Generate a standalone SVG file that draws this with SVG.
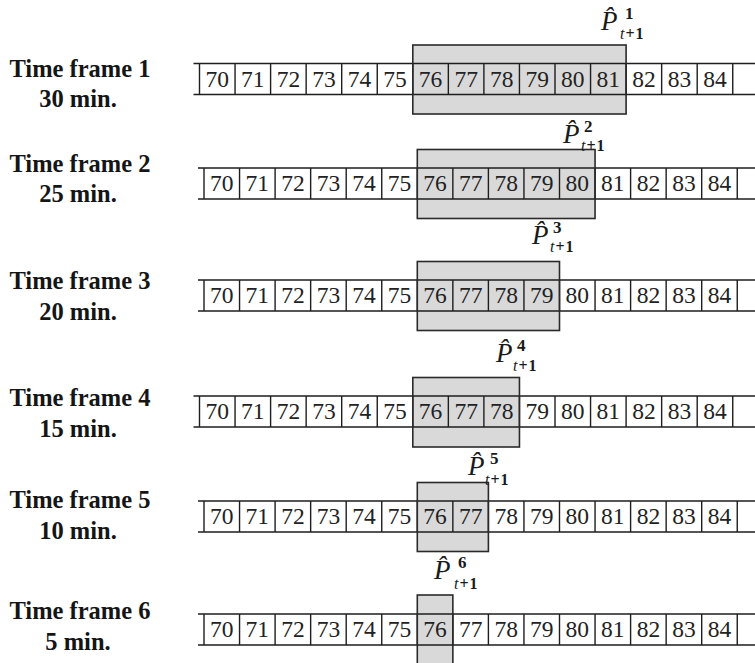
<svg xmlns="http://www.w3.org/2000/svg" xmlns:xlink="http://www.w3.org/1999/xlink" width="755" height="663" viewBox="0 0 755 663">
<style>
.bg{fill:#fff}
.ln{fill:none;stroke:#1e1e1e;stroke-width:1.4}
.boxf{fill:#d9d9d9;stroke:none}
.boxs{fill:none;stroke:#2a2a2a;stroke-width:1.6}
.num{font-family:"Liberation Serif",serif;font-size:23.5px;fill:#222;text-anchor:middle}
.lbl{font-family:"Liberation Serif",serif;font-weight:bold;font-size:24.5px;fill:#151515;text-anchor:middle}
.P{font-family:"Liberation Serif",serif;font-style:italic;font-size:27px;fill:#1a1a1a}
.sup{font-family:"Liberation Serif",serif;font-weight:bold;font-size:17px;fill:#1a1a1a}
.sub{font-family:"Liberation Serif",serif;font-weight:bold;font-size:16px;letter-spacing:1px;fill:#1a1a1a}
.it{font-style:italic;font-weight:normal}
</style>
<defs>
<path id="strip" class="ln" d="M-6,0H560M-6,31H560M0,0V31M35.55,0V31M71.1,0V31M106.65,0V31M142.2,0V31M177.75,0V31M213.3,0V31M248.85,0V31M284.4,0V31M319.95,0V31M355.5,0V31M391.05,0V31M426.6,0V31M462.15,0V31M497.7,0V31M533.25,0V31"/>
</defs>
<rect class="bg" x="0" y="0" width="755" height="663"/>

<g id="row1">
<text class="lbl" x="80" y="77">Time frame 1</text>
<text class="lbl" x="78" y="107">30 min.</text>
<g transform="translate(199.5,63.5)">
<rect class="boxf" x="213.3" y="-18.5" width="213.3" height="69"/>
<use xlink:href="#strip"/>
<rect class="boxs" x="213.3" y="-18.5" width="213.3" height="69"/>
<text class="num" y="23"><tspan x="17.78">70</tspan><tspan x="53.33">71</tspan><tspan x="88.88">72</tspan><tspan x="124.43">73</tspan><tspan x="159.98">74</tspan><tspan x="195.53">75</tspan><tspan x="231.08">76</tspan><tspan x="266.63">77</tspan><tspan x="302.18">78</tspan><tspan x="337.73">79</tspan><tspan x="373.28">80</tspan><tspan x="408.83">81</tspan><tspan x="444.38">82</tspan><tspan x="479.93">83</tspan><tspan x="515.48">84</tspan></text>
</g>
<text class="P" x="601" y="30">P̂</text><text class="sup" x="625" y="19">1</text><text class="sub" x="620" y="39"><tspan class="it">t</tspan>+1</text>
</g>

<g id="row2">
<text class="lbl" x="80" y="172">Time frame 2</text>
<text class="lbl" x="78" y="202">25 min.</text>
<g transform="translate(204,168)">
<rect class="boxf" x="213.3" y="-18.5" width="177.75" height="69"/>
<use xlink:href="#strip"/>
<rect class="boxs" x="213.3" y="-18.5" width="177.75" height="69"/>
<text class="num" y="23"><tspan x="17.78">70</tspan><tspan x="53.33">71</tspan><tspan x="88.88">72</tspan><tspan x="124.43">73</tspan><tspan x="159.98">74</tspan><tspan x="195.53">75</tspan><tspan x="231.08">76</tspan><tspan x="266.63">77</tspan><tspan x="302.18">78</tspan><tspan x="337.73">79</tspan><tspan x="373.28">80</tspan><tspan x="408.83">81</tspan><tspan x="444.38">82</tspan><tspan x="479.93">83</tspan><tspan x="515.48">84</tspan></text>
</g>
<text class="P" x="563" y="143">P̂</text><text class="sup" x="584" y="132">2</text><text class="sub" x="581" y="151"><tspan class="it">t</tspan>+1</text>
</g>

<g id="row3">
<text class="lbl" x="80" y="289">Time frame 3</text>
<text class="lbl" x="78" y="320">20 min.</text>
<g transform="translate(204,280)">
<rect class="boxf" x="213.3" y="-18.5" width="142.2" height="69"/>
<use xlink:href="#strip"/>
<rect class="boxs" x="213.3" y="-18.5" width="142.2" height="69"/>
<text class="num" y="23"><tspan x="17.78">70</tspan><tspan x="53.33">71</tspan><tspan x="88.88">72</tspan><tspan x="124.43">73</tspan><tspan x="159.98">74</tspan><tspan x="195.53">75</tspan><tspan x="231.08">76</tspan><tspan x="266.63">77</tspan><tspan x="302.18">78</tspan><tspan x="337.73">79</tspan><tspan x="373.28">80</tspan><tspan x="408.83">81</tspan><tspan x="444.38">82</tspan><tspan x="479.93">83</tspan><tspan x="515.48">84</tspan></text>
</g>
<text class="P" x="532" y="244">P̂</text><text class="sup" x="553" y="233">3</text><text class="sub" x="550" y="252"><tspan class="it">t</tspan>+1</text>
</g>

<g id="row4">
<text class="lbl" x="80" y="406">Time frame 4</text>
<text class="lbl" x="78" y="437">15 min.</text>
<g transform="translate(199.5,396)">
<rect class="boxf" x="213.3" y="-18.5" width="106.65" height="69.5"/>
<use xlink:href="#strip"/>
<rect class="boxs" x="213.3" y="-18.5" width="106.65" height="69.5"/>
<text class="num" y="23"><tspan x="17.78">70</tspan><tspan x="53.33">71</tspan><tspan x="88.88">72</tspan><tspan x="124.43">73</tspan><tspan x="159.98">74</tspan><tspan x="195.53">75</tspan><tspan x="231.08">76</tspan><tspan x="266.63">77</tspan><tspan x="302.18">78</tspan><tspan x="337.73">79</tspan><tspan x="373.28">80</tspan><tspan x="408.83">81</tspan><tspan x="444.38">82</tspan><tspan x="479.93">83</tspan><tspan x="515.48">84</tspan></text>
</g>
<text class="P" x="496" y="362">P̂</text><text class="sup" x="517" y="351">4</text><text class="sub" x="513" y="371"><tspan class="it">t</tspan>+1</text>
</g>

<g id="row5">
<text class="lbl" x="80" y="508">Time frame 5</text>
<text class="lbl" x="78" y="539">10 min.</text>
<g transform="translate(204,501)">
<rect class="boxf" x="213.3" y="-18.5" width="71.1" height="69"/>
<use xlink:href="#strip"/>
<rect class="boxs" x="213.3" y="-18.5" width="71.1" height="69"/>
<text class="num" y="23"><tspan x="17.78">70</tspan><tspan x="53.33">71</tspan><tspan x="88.88">72</tspan><tspan x="124.43">73</tspan><tspan x="159.98">74</tspan><tspan x="195.53">75</tspan><tspan x="231.08">76</tspan><tspan x="266.63">77</tspan><tspan x="302.18">78</tspan><tspan x="337.73">79</tspan><tspan x="373.28">80</tspan><tspan x="408.83">81</tspan><tspan x="444.38">82</tspan><tspan x="479.93">83</tspan><tspan x="515.48">84</tspan></text>
</g>
<text class="P" x="468" y="475">P̂</text><text class="sup" x="490" y="464">5</text><text class="sub" x="485" y="485"><tspan class="it">t</tspan>+1</text>
</g>

<g id="row6">
<text class="lbl" x="80" y="619">Time frame 6</text>
<text class="lbl" x="78" y="650">5 min.</text>
<g transform="translate(204,614)">
<rect class="boxf" x="213.3" y="-19" width="35.55" height="80"/>
<use xlink:href="#strip"/>
<rect class="boxs" x="213.3" y="-19" width="35.55" height="80"/>
<text class="num" y="23"><tspan x="17.78">70</tspan><tspan x="53.33">71</tspan><tspan x="88.88">72</tspan><tspan x="124.43">73</tspan><tspan x="159.98">74</tspan><tspan x="195.53">75</tspan><tspan x="231.08">76</tspan><tspan x="266.63">77</tspan><tspan x="302.18">78</tspan><tspan x="337.73">79</tspan><tspan x="373.28">80</tspan><tspan x="408.83">81</tspan><tspan x="444.38">82</tspan><tspan x="479.93">83</tspan><tspan x="515.48">84</tspan></text>
</g>
<text class="P" x="434" y="579">P̂</text><text class="sup" x="458" y="568">6</text><text class="sub" x="454" y="589"><tspan class="it">t</tspan>+1</text>
</g>
</svg>
